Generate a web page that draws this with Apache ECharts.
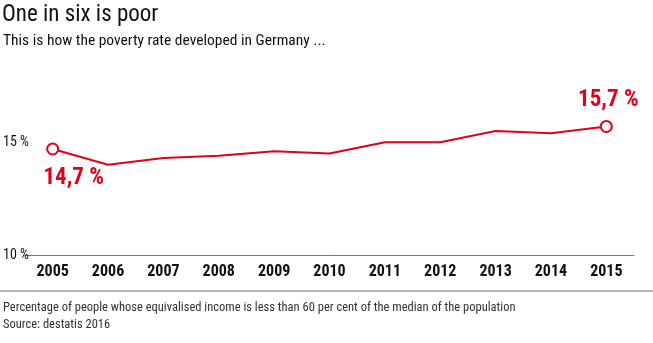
<!DOCTYPE html>
<html>
<head>
<meta charset="utf-8">
<script src="https://cdn.jsdelivr.net/npm/echarts@6/dist/echarts.min.js"></script>
<style>
html,body{margin:0;padding:0;background:#fff;}
#c{width:653px;height:343px;}
</style>
</head>
<body>
<div id="c"></div>
<script>
var years = ['2005','2006','2007','2008','2009','2010','2011','2012','2013','2014','2015'];
var povertyRate = [14.7,14.0,14.3,14.4,14.6,14.5,15.0,15.0,15.5,15.4,15.7];
var yTicks = [10, 15];
var titleText = 'One in six is poor';
var subtitleText = 'This is how the poverty rate developed in Germany ...';
var noteText = 'Percentage of people whose equivalised income is less than 60 per cent of the median of the population';
var sourceText = 'Source: destatis 2016';

var FONT = 'Roboto, "Open Sans", sans-serif';
var NORMAL = 'condensed';
var BOLD = 'bold condensed';
var RED = '#e2001a';
var last = povertyRate.length - 1;
function fmt(v){ return String(v.toFixed(1)).replace('.', ',') + ' %'; }

var seriesData = povertyRate.map(function(v, i){
  var d = {value: v};
  if (i === 0) {
    d.label = {show: true, position: 'bottom', offset: [21, 6]};
  } else if (i === last) {
    d.label = {show: true, position: 'top', offset: [2, -3]};
  }
  return d;
});

var chart = echarts.init(document.getElementById('c'));
chart.setOption({
  animation: false,
  textStyle: {fontFamily: FONT},
  title: [
    {text: titleText, left: 2, top: 4, padding: 0, textStyle: {fontFamily: FONT, fontSize: 23, fontWeight: NORMAL, color: '#111'}},
    {text: subtitleText, left: 3, top: 33, padding: 0, textStyle: {fontFamily: FONT, fontSize: 15.5, fontWeight: NORMAL, color: '#111'}},
    {text: noteText, left: 3, top: 301, padding: 0, textStyle: {fontFamily: FONT, fontSize: 12.5, fontWeight: NORMAL, color: '#333'}},
    {text: sourceText, left: 3, top: 318, padding: 0, textStyle: {fontFamily: FONT, fontSize: 12.5, fontWeight: NORMAL, color: '#333'}}
  ],
  graphic: [
    {type: 'rect', left: 0, top: 290, shape: {width: 653, height: 2}, style: {fill: '#b5b5b5'}}
  ],
  grid: {left: 24, right: 19, top: 29.5, bottom: 88},
  xAxis: {
    type: 'category',
    data: years,
    boundaryGap: true,
    axisLine: {lineStyle: {color: '#777', width: 1}},
    axisTick: {show: false},
    axisLabel: {margin: 9, fontFamily: FONT, fontSize: 16, fontWeight: BOLD, color: '#111'}
  },
  yAxis: {
    type: 'value',
    min: 10,
    max: 20,
    interval: 5,
    axisLine: {show: false},
    axisTick: {show: false},
    splitLine: {show: false},
    axisLabel: {
      align: 'left', margin: 22, fontFamily: FONT, fontSize: 14, fontWeight: NORMAL, color: '#111',
      formatter: function(v){ return yTicks.indexOf(v) >= 0 ? v + ' %' : ''; }
    }
  },
  series: [{
    type: 'line',
    data: seriesData,
    symbol: 'emptyCircle',
    showSymbol: true,
    symbolSize: function(v, p){ return (p.dataIndex === 0 || p.dataIndex === last) ? 11 : 0; },
    lineStyle: {color: RED, width: 2},
    itemStyle: {color: RED, borderWidth: 1.5},
    label: {
      show: false,
      color: RED,
      fontFamily: FONT,
      fontSize: 23,
      fontWeight: BOLD,
      formatter: function(p){ return fmt(p.value); }
    }
  }]
});
</script>
</body>
</html>
